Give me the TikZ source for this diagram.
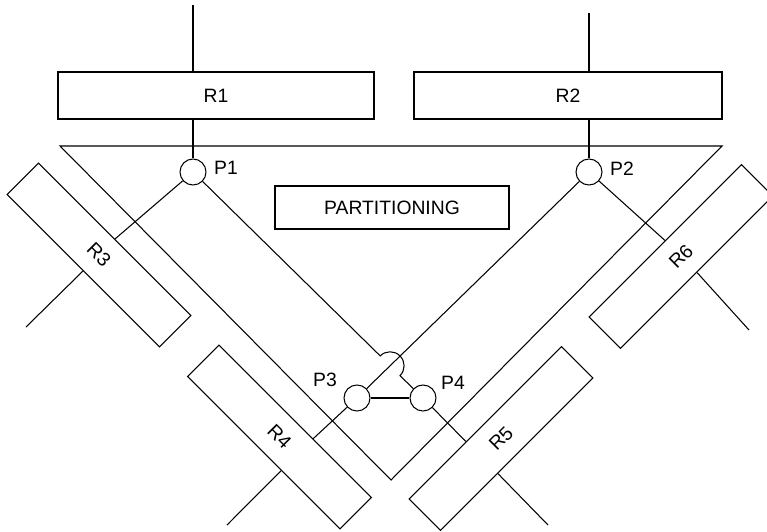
\documentclass[tikz,border=0pt]{standalone}
\usepackage{fontspec}
\setmainfont{Liberation Sans}
\usetikzlibrary{positioning, calc}
\tikzset{
    % Node styles - plain boxes and circles
    relbox/.style={
        rectangle,
        draw,
        fill=white,
        line width=0.6pt,
        minimum width=6.32cm,
        minimum height=0.94cm,
        inner sep=0pt,
        text centered,
        font=\fontsize{11}{13}\selectfont
    },
    rotbox/.style={
        relbox,
        minimum width=4.31cm,
        minimum height=0.89cm
    },
    procnode/.style={
        circle,
        draw,
        fill=white,
        line width=0.6pt,
        minimum size=0.52cm,
        inner sep=0pt
    },
    plabel/.style={
        inner sep=0pt,
        font=\fontsize{11}{13}\selectfont
    },
    % Line styles
    link/.style={
        line width=0.6pt,
        black
    }
}
\begin{document}
\begin{tikzpicture}
    \useasboundingbox (0,0) rectangle (15.34,10.62);

    % Relations
    \node[relbox] (r1) at (4.32,8.71) {R1};
    \node[relbox,minimum width=6.16cm] (r2) at (11.36,8.71) {R2};
    \node[rotbox,rotate=-45] (r3) at (1.98,5.52) {R3};
    \node[rotbox,rotate=-45] (r4) at (5.59,1.88) {R4};
    \node[rotbox,rotate=45] (r5) at (10.02,1.85) {R5};
    \node[rotbox,rotate=45] (r6) at (13.62,5.49) {R6};

    % Partitioning
    \draw[link] (1.2,7.7) -- (14.44,7.7) -- (7.82,1.02) -- cycle;
    \node[relbox,minimum width=4.68cm,minimum height=0.86cm] (part) at (7.84,6.47) {PARTITIONING};

    % Processors
    \node[procnode] (p1) at (3.86,7.18) {};
    \node[procnode] (p2) at (11.78,7.18) {};
    \node[procnode] (p3) at (7.14,2.66) {};
    \node[procnode] (p4) at (8.46,2.66) {};

    \node[plabel] (p1l) at (4.52,7.26) {P1};
    \node[plabel] (p2l) at (12.44,7.24) {P2};
    \node[plabel] (p3l) at (6.5,3.02) {P3};
    \node[plabel] (p4l) at (9.06,2.96) {P4};

    % Free ends
    \coordinate (e1) at (3.86,10.52);
    \coordinate (e2) at (11.78,10.36);
    \coordinate (e3) at (0.52,4.08);
    \coordinate (e4) at (4.54,0.12);
    \coordinate (e5) at (10.96,0.12);
    \coordinate (e6) at (14.98,4.02);

    % Connections
    \draw[link] (e1) -- (e1 |- r1.north);
    \draw[link] (e2) -- (e2 |- r2.north);
    \draw[link] (p1) -- (p1 |- r1.south);
    \draw[link] (p2) -- (p2 |- r2.south);
    \draw[link] (p1) -- (r3.north);
    \draw[link] (r3.south) -- (e3);
    \draw[link] (p2) -- (r6.north);
    \draw[link] (r6.south) -- (e6);
    \draw[link] (p2) -- (p3);
    \draw[link] (p3) -- (p4);
    \draw[link] (p3) -- ($(r4.north)!0.5cm!(r4.north east)$);
    \draw[link] ($(r4.south)!0.5cm!(r4.south east)$) -- (e4);
    \draw[link] (p4) -- ($(r5.north)!0.54cm!(r5.north west)$);
    \draw[link] ($(r5.south)!0.54cm!(r5.south west)$) -- (e5);

    % Hop over the P2-P3 line
    \coordinate (cross) at (intersection of p1--p4 and p2--p3);
    \draw[link] (p1) -- ($(cross)!0.28cm!(p1)$) arc[start angle=135, end angle=-45, radius=0.28cm] -- (p4);
\end{tikzpicture}
\end{document}
